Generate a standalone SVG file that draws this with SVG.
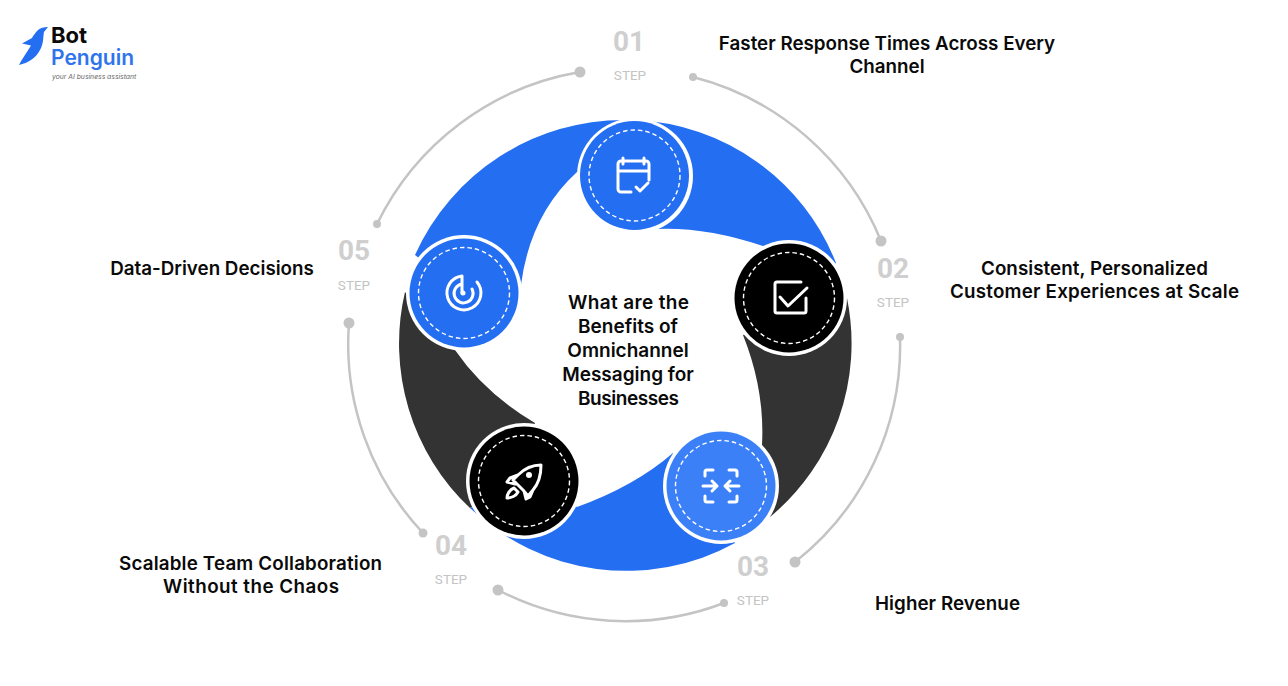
<svg xmlns="http://www.w3.org/2000/svg" width="1288" height="686" viewBox="0 0 1288 686">
<style>
text{font-family:"Inter","Liberation Sans",sans-serif}
.lab{font-size:18.8px;font-weight:600;fill:#0a0a0a;text-anchor:middle}
.ctr{font-size:19px;font-weight:600;fill:#0a0a0a;text-anchor:middle}
.num{font-family:"Roboto","Liberation Sans",sans-serif;font-size:28px;font-weight:700;fill:#cfcfcf;text-anchor:middle}
.stp{font-family:"Roboto","Liberation Sans",sans-serif;font-size:13.5px;fill:#c4c4c4;text-anchor:middle}
.blue{fill:#246ef2}.dark{fill:#333}
.arc{fill:none;stroke:#c4c4c4;stroke-width:2.5}
.dot{fill:#c4c4c4}
.ring{fill:#fff}
.dash{fill:none;stroke:#fff;stroke-width:1.4;stroke-dasharray:4.5 3}
.ico{fill:none;stroke:#fff;stroke-width:3;stroke-linecap:round;stroke-linejoin:round}
</style>
<rect width="1288" height="686" fill="#fff"/>
<g id="logo">
<path d="M48,27 C44,27 40,28 38,30 C35,33 33,36 32,38 L22,43.500 L31,45.500 C27,52 22,59 19,65 C28,63 36,58 40,50 C44,43 43,36 44,32 Z" fill="#246ef2"/>
<text x="51" y="43" font-size="22" font-weight="700" fill="#0a0a0a">Bot</text>
<text x="51" y="65" font-size="21" font-weight="600" fill="#2f74ec">Penguin</text>
<text x="52" y="79" font-size="6.800" font-style="italic" fill="#666">your AI business assistant</text>
</g>
<g id="connectors">
<path class="arc" d="M693,77 A277,277 0 0 1 881,241"/>
<path class="arc" d="M900,337 A275,275 0 0 1 795,562"/>
<path class="arc" d="M724,603 A276,276 0 0 1 498,590"/>
<path class="arc" d="M423,533 A276,276 0 0 1 349,323"/>
<path class="arc" d="M377,224 A277,277 0 0 1 580,72"/>
<circle class="dot" cx="693" cy="77" r="4"/><circle class="dot" cx="881" cy="241" r="5.500"/>
<circle class="dot" cx="900" cy="337" r="4"/><circle class="dot" cx="795" cy="562" r="5.500"/>
<circle class="dot" cx="724" cy="603" r="4"/><circle class="dot" cx="498" cy="590" r="5.500"/>
<circle class="dot" cx="423" cy="533" r="4.500"/><circle class="dot" cx="349" cy="323" r="5.500"/>
<circle class="dot" cx="377" cy="224" r="4"/><circle class="dot" cx="580" cy="72" r="5.500"/>
</g>
<g id="bands">
<path class="blue" d="M470,508 A226,226 0 0 0 735,543 L721,486 L673,453 Q635,486 577,507 L524,481 Z"/>
<path class="dark" d="M847,298 A226,226 0 0 1 770,517 L721,486 L762,445 Q765,390 743,335 Z"/>
<path class="dark" d="M405,292 A226,226 0 0 0 470,508 L524,481 L535,423 Q485,393.500 455,350 Z"/>
<path class="blue" d="M415,255 A229,229 0 0 1 625,120 L635,120 L635,175 L577,172 Q530,215 521,285 L464,293 Z"/>
<path class="blue" d="M635,120 A226,226 0 0 1 836,263 L789,298 L763,246 Q705,226.500 655,229 L635,175 Z"/>
</g>
<g id="node-1">
<circle class="ring" cx="635" cy="176" r="58"/><circle class="blue" cx="634.500" cy="175.500" r="54.500"/>
<circle class="dash" cx="634.500" cy="175.500" r="45.500"/>
<path class="ico" d="M631,192 H621 a3,3 0 0 1 -3,-3 V164 a3,3 0 0 1 3,-3 H646 a3,3 0 0 1 3,3 V180 M618,171 H649 M623,158 V164 M644,158 V164 M636,187 l4,4 l8,-8"/>
</g>
<g id="node-2">
<circle class="ring" cx="789" cy="298" r="58"/><circle cx="789" cy="298" r="54.500" fill="#000"/>
<circle class="dash" cx="789" cy="298" r="45.500"/>
<path class="ico" d="M801,282 H777 a2,2 0 0 0 -2,2 V311 a2,2 0 0 0 2,2 H804 a2,2 0 0 0 2,-2 V298 M780,297 L788,306 L807,288"/>
</g>
<g id="node-3">
<circle class="ring" cx="721" cy="486" r="58"/><circle cx="721" cy="486" r="54.500" fill="#3c80f7"/>
<circle class="dash" cx="721" cy="486" r="45.500"/>
<path class="ico" d="M713,470 H707 a2,2 0 0 0 -2,2 V476 M729,470 H735 a2,2 0 0 1 2,2 V476 M705,496 V500 a2,2 0 0 0 2,2 H713 M737,496 V500 a2,2 0 0 1 -2,2 H729 M703,486 H717 M712,481 L717,486 L712,491 M739,486 H725 M730,481 L725,486 L730,491"/>
</g>
<g id="node-4">
<circle class="ring" cx="524" cy="481" r="58"/><circle cx="524" cy="481" r="54.500" fill="#000"/>
<circle class="dash" cx="524" cy="481" r="45.500"/>
<path class="ico" d="M541,465 C532,465 524,469 518,475 L513,480 L523,490 L528,496 L533,490 C539,483 541,474 541,465 Z M518,475 L510,478 L507,482 L515,484 M533,490 L530,497 L526,499 L524,491 M514,488 C509,490 507,495 507,498 C511,498 516,496 518,492 Z"/>
<circle cx="529" cy="475" r="3" fill="#fff"/>
</g>
<g id="node-5">
<circle class="ring" cx="464" cy="293" r="58"/><circle class="blue" cx="464" cy="293" r="54.500"/>
<circle class="dash" cx="464" cy="293" r="45.500"/>
<path class="ico" d="M462,276 A17,17 0 1 0 477,282 M462,276 V293 M462,284 A9.500,9.500 0 1 0 472,289"/>
<circle cx="463" cy="293" r="2.500" fill="#fff"/>
</g>
<g id="center">
<text class="ctr" x="628.500" y="309" textLength="121">What are the</text>
<text class="ctr" x="628" y="333">Benefits of</text>
<text class="ctr" x="628" y="357">Omnichannel</text>
<text class="ctr" x="628" y="381">Messaging for</text>
<text class="ctr" x="628.500" y="405" textLength="101">Businesses</text>
</g>
<g id="step-1"><text class="num" x="629" y="51">01</text><text class="stp" x="630" y="80">STEP</text>
<text class="lab" x="887" y="50">Faster Response Times Across Every</text><text class="lab" x="887" y="73">Channel</text></g>
<g id="step-2"><text class="num" x="893" y="278">02</text><text class="stp" x="893" y="307">STEP</text>
<text class="lab" x="1094.500" y="275" textLength="227">Consistent, Personalized</text><text class="lab" x="1094.500" y="298" textLength="289">Customer Experiences at Scale</text></g>
<g id="step-3"><text class="num" x="753" y="576">03</text><text class="stp" x="753" y="605">STEP</text>
<text class="lab" x="947.500" y="610" textLength="145">Higher Revenue</text></g>
<g id="step-4"><text class="num" x="451" y="555">04</text><text class="stp" x="451" y="584">STEP</text>
<text class="lab" x="250.500" y="570" textLength="263">Scalable Team Collaboration</text><text class="lab" x="251" y="593" textLength="176">Without the Chaos</text></g>
<g id="step-5"><text class="num" x="354" y="260">05</text><text class="stp" x="354" y="290">STEP</text>
<text class="lab" x="212" y="275">Data-Driven Decisions</text></g>
</svg>
